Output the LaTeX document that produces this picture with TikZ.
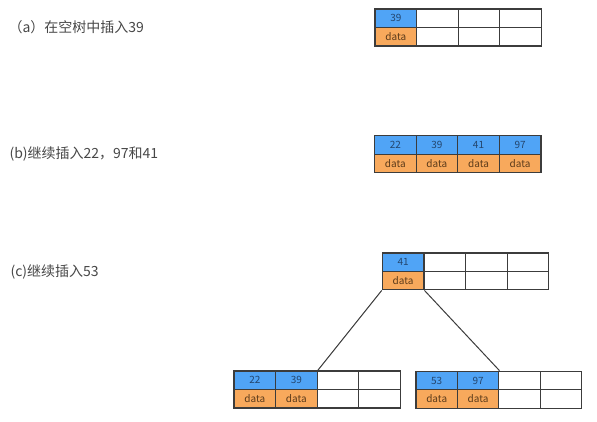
\documentclass[tikz,border=0pt]{standalone}
\usepackage{fontspec}
\setmainfont{Noto Sans CJK SC}
\definecolor{keyblue}{HTML}{50A4F6}
\definecolor{keytext}{HTML}{24466E}
\definecolor{datorange}{HTML}{F8A95C}
\definecolor{dattext}{HTML}{5A3A1A}
\definecolor{edge}{HTML}{3C3C3C}
\begin{document}
\begin{tikzpicture}[x=1pt,y=-1pt,
    cell/.style={draw=edge,line width=1.2pt,minimum width=41.6pt,minimum height=18.5pt,inner sep=0pt,font=\fontsize{10}{10}\selectfont},
    key/.style={cell,fill=keyblue,text=keytext},
    dat/.style={cell,fill=datorange,text=dattext},
    blank/.style={cell,fill=white},
    step label/.style={anchor=west,font=\fontsize{14}{14}\selectfont,text=black!72}]
    \useasboundingbox (0,0) rectangle (597,421);
    % (a) one key
    \node[step label] (la) at (5,27) {（a）在空树中插入39};
    \foreach \k [count=\i] in {39} {
      \node[key] (a-k\i) at ({375+(\i-0.5)*41.6},18.3) {\k};
      \node[dat] (a-d\i) at ({375+(\i-0.5)*41.6},36.8) {data};
    }
    \foreach \i in {2,3,4} {
      \node[blank] (a-k\i) at ({375+(\i-0.5)*41.6},18.3) {};
      \node[blank] (a-d\i) at ({375+(\i-0.5)*41.6},36.8) {};
    }
    % (b) full node
    \node[step label] (lb) at (6,154) {(b)继续插入22，97和41};
    \foreach \k [count=\i] in {22,39,41,97} {
      \node[key] (b-k\i) at ({374.5+(\i-0.5)*41.6},145) {\k};
      \node[dat] (b-d\i) at ({374.5+(\i-0.5)*41.6},163.5) {data};
    }
    % (c) split
    \node[step label] (lc) at (7,271.5) {(c)继续插入53};
    \foreach \k [count=\i] in {41} {
      \node[key] (r-k\i) at ({382.3+(\i-0.5)*41.6},262.3) {\k};
      \node[dat] (r-d\i) at ({382.3+(\i-0.5)*41.6},280.6) {data};
    }
    \foreach \i in {2,3,4} {
      \node[blank] (r-k\i) at ({382.3+(\i-0.5)*41.6},262.3) {};
      \node[blank] (r-d\i) at ({382.3+(\i-0.5)*41.6},280.6) {};
    }
    \foreach \k [count=\i] in {22,39} {
      \node[key] (l-k\i) at ({234+(\i-0.5)*41.6},380.2) {\k};
      \node[dat] (l-d\i) at ({234+(\i-0.5)*41.6},398.7) {data};
    }
    \foreach \k [count=\i] in {53,97} {
      \node[key] (rr-k\i) at ({416+(\i-0.5)*41.4},380.5) {\k};
      \node[dat] (rr-d\i) at ({416+(\i-0.5)*41.4},399) {data};
    }
    \foreach \i in {3,4} {
      \node[blank] (l-k\i) at ({234+(\i-0.5)*41.6},380.2) {};
      \node[blank] (l-d\i) at ({234+(\i-0.5)*41.6},398.7) {};
      \node[blank] (rr-k\i) at ({416+(\i-0.5)*41.4},380.5) {};
      \node[blank] (rr-d\i) at ({416+(\i-0.5)*41.4},399) {};
    }
    \draw[edge,line width=1pt] (r-d1.south west) -- (l-k2.north east);
    \draw[edge,line width=1pt] (r-d1.south east) -- (rr-k2.north east);
  \end{tikzpicture}
\end{document}
